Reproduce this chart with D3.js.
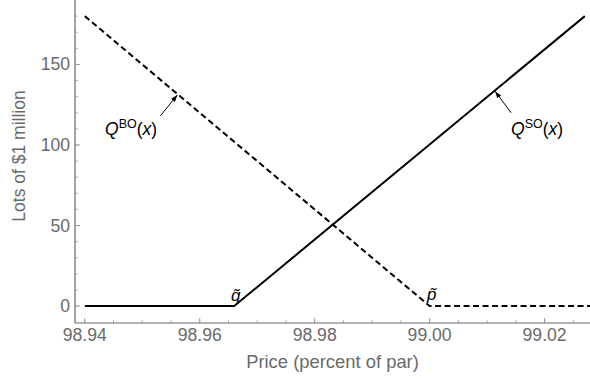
<!DOCTYPE html>
<html>
<head>
<meta charset="utf-8">
<script src="https://cdn.jsdelivr.net/npm/d3@7"></script>
<style>
  html, body { margin: 0; padding: 0; background: #fff; }
  svg { display: block; font-family: "Liberation Sans", Arial, sans-serif; }
</style>
</head>
<body>
<svg id="chart" width="590" height="379"></svg>
<script>
// Buy-order schedule Q^BO(x): falls linearly to zero at p~
const boPrices = [98.94, 99.00, 99.0279];
const boLots   = [180, 0, 0];
// Sell-order schedule Q^SO(x): zero up to q~, then rises
const soPrices = [98.94, 98.966, 99.027];
const soLots   = [0, 0, 180];

const xTicks = [98.94, 98.96, 98.98, 99.00, 99.02];
const xMinor = d3.range(98.94, 99.0276, 0.005);
const yTicks = [0, 50, 100, 150];
const yMinor = d3.range(0, 181, 10);

const svg = d3.select("#chart");
const x = d3.scaleLinear().domain([98.9383, 99.0279]).range([75, 590]);
const y = d3.scaleLinear().domain([-10.5, 190]).range([323, 0]);

const axisColor = "#666";
const textColor = "#6a6a6a";
const labelSize = 17.6;

// Axis frame lines
svg.append("line").attr("x1", 75).attr("x2", 75).attr("y1", 0).attr("y2", 323)
  .attr("stroke", axisColor).attr("stroke-width", 1.2);
svg.append("line").attr("x1", 75).attr("x2", 590).attr("y1", 323).attr("y2", 323)
  .attr("stroke", axisColor).attr("stroke-width", 1.2);

// Ticks (pointing inward)
const gx = svg.append("g");
gx.selectAll(".minor").data(xMinor).join("line")
  .attr("x1", d => x(d)).attr("x2", d => x(d))
  .attr("y1", 323).attr("y2", 320.5)
  .attr("stroke", "#999").attr("stroke-width", 1);
gx.selectAll(".major").data(xTicks).join("line")
  .attr("x1", d => x(d)).attr("x2", d => x(d))
  .attr("y1", 323).attr("y2", 318)
  .attr("stroke", "#999").attr("stroke-width", 1);
gx.selectAll("text").data(xTicks).join("text")
  .attr("x", d => x(d)).attr("y", 341)
  .attr("text-anchor", "middle")
  .attr("font-size", labelSize).attr("fill", textColor)
  .text(d3.format(".2f"));

const gy = svg.append("g");
gy.selectAll(".minor").data(yMinor).join("line")
  .attr("x1", 75).attr("x2", 77.5)
  .attr("y1", d => y(d)).attr("y2", d => y(d))
  .attr("stroke", "#999").attr("stroke-width", 1);
gy.selectAll(".major").data(yTicks).join("line")
  .attr("x1", 75).attr("x2", 80)
  .attr("y1", d => y(d)).attr("y2", d => y(d))
  .attr("stroke", "#999").attr("stroke-width", 1);
gy.selectAll("text").data(yTicks).join("text")
  .attr("x", 70).attr("y", d => y(d) + 6)
  .attr("text-anchor", "end")
  .attr("font-size", labelSize).attr("fill", textColor)
  .text(d => d);

// Axis titles
svg.append("text").attr("x", 332.5).attr("y", 368)
  .attr("text-anchor", "middle").attr("font-size", 18.4).attr("fill", textColor)
  .text("Price (percent of par)");
svg.append("text")
  .attr("transform", "translate(25,156) rotate(-90)")
  .attr("text-anchor", "middle").attr("font-size", 17.5).attr("fill", textColor)
  .text("Lots of $1 million");

// Schedules
const line = d3.line().x(d => x(d[0])).y(d => y(d[1]));
svg.append("path")
  .attr("d", line(d3.zip(soPrices, soLots)))
  .attr("fill", "none").attr("stroke", "#000").attr("stroke-width", 2);
svg.append("path")
  .attr("d", line(d3.zip(boPrices, boLots)))
  .attr("fill", "none").attr("stroke", "#000").attr("stroke-width", 2)
  .attr("stroke-dasharray", "6,3.5");

// Arrow annotations
svg.append("defs").append("marker")
  .attr("id", "arrow").attr("viewBox", "0 0 10 10")
  .attr("refX", 10).attr("refY", 5)
  .attr("markerWidth", 7).attr("markerHeight", 7)
  .attr("orient", "auto-start-reverse")
  .append("path").attr("d", "M0,1.5 L10,5 L0,8.5 Z").attr("fill", "#000");

const boAt = 98.9562;
const boVal = d3.scaleLinear().domain([boPrices[0], boPrices[1]]).range([boLots[0], boLots[1]])(boAt);
const soAt = 99.0113;
const soVal = d3.scaleLinear().domain([soPrices[1], soPrices[2]]).range([soLots[1], soLots[2]])(soAt);

svg.append("line")
  .attr("x1", x(boAt) - 17.5).attr("y1", y(boVal) + 21.5)
  .attr("x2", x(boAt) - 0.5).attr("y2", y(boVal) + 0.5)
  .attr("stroke", "#000").attr("stroke-width", 1)
  .attr("marker-end", "url(#arrow)");
svg.append("line")
  .attr("x1", x(soAt) + 16.5).attr("y1", y(soVal) + 22)
  .attr("x2", x(soAt) + 0.5).attr("y2", y(soVal) + 0.5)
  .attr("stroke", "#000").attr("stroke-width", 1)
  .attr("marker-end", "url(#arrow)");

function qLabel(px, py, sup) {
  const t = svg.append("text").attr("x", px).attr("y", py)
    .attr("font-size", 17.5).attr("fill", "#000");
  t.append("tspan").attr("font-style", "italic").text("Q");
  t.append("tspan").attr("font-size", 12.5).attr("dy", -7).text(sup);
  t.append("tspan").attr("dy", 7).text("(");
  t.append("tspan").attr("font-style", "italic").text("x");
  t.append("tspan").text(")");
}
qLabel(105, 135, "BO");
qLabel(511, 135, "SO");

// Price markers on the zero line
svg.append("text").attr("x", x(soPrices[1]) + 1.5).attr("y", 301)
  .attr("text-anchor", "middle").attr("font-size", 17).attr("font-style", "italic")
  .text("q\u0303");
svg.append("text").attr("x", x(boPrices[1]) + 2).attr("y", 300)
  .attr("text-anchor", "middle").attr("font-size", 17).attr("font-style", "italic")
  .text("p\u0303");
</script>
</body>
</html>
